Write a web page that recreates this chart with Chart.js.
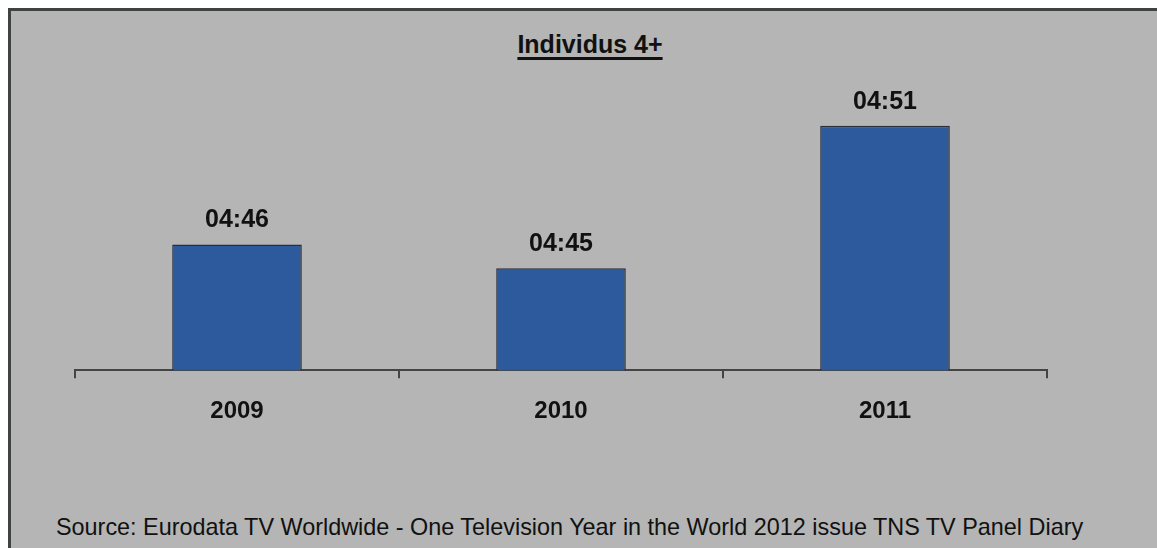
<!DOCTYPE html>
<html>
<head>
<meta charset="utf-8">
<script src="https://cdn.jsdelivr.net/npm/chart.js@4/dist/chart.umd.min.js"></script>
<style>
  html, body { margin: 0; padding: 0; background: #fff; }
  body { width: 1157px; height: 548px; position: relative; overflow: hidden; font-family: "Liberation Sans", Arial, sans-serif; }
  #frame {
    position: absolute; left: 8px; top: 8px; width: 1200px; height: 600px;
    background: #b4b5b4; border-left: 3px solid #3f4242; border-top: 3px solid #3f4242;
  }
  #title {
    position: absolute; left: 0; width: 1180px; top: 30px; text-align: center;
    font-weight: bold; font-size: 25px; line-height: 28px; color: #111;
    text-decoration: underline; text-decoration-thickness: 3px; text-underline-offset: 4px;
  }
  #source {
    position: absolute; left: 56px; top: 513px; font-size: 23.4px; line-height: 28px; color: #111; white-space: nowrap;
  }
  #chart { position: absolute; left: 0; top: 0; }
</style>
</head>
<body>
<div id="frame"></div>
<div id="title">Individus 4+</div>
<div id="source">Source: Eurodata TV Worldwide - One Television Year in the World 2012 issue TNS TV Panel Diary</div>
<canvas id="chart" width="1157" height="548"></canvas>
<script>
// daily viewing time, in minutes (04:46 = 286)
const years = ['2009', '2010', '2011'];
const minutes = [286, 285, 291];

function fmt(v) {
  const h = Math.floor(v / 60);
  const m = Math.round(v % 60);
  return String(h).padStart(2, '0') + ':' + String(m).padStart(2, '0');
}

// draws the value above each bar
const valueLabels = {
  id: 'valueLabels',
  afterDatasetsDraw(chart) {
    const ctx = chart.ctx;
    const meta = chart.getDatasetMeta(0);
    ctx.save();
    ctx.font = 'bold 25px "Liberation Sans", Arial, sans-serif';
    ctx.fillStyle = '#111';
    ctx.textAlign = 'center';
    ctx.textBaseline = 'alphabetic';
    meta.data.forEach((bar, i) => {
      ctx.fillText(fmt(minutes[i]), bar.x, bar.y - 17);
    });
    ctx.restore();
  }
};

new Chart(document.getElementById('chart'), {
  type: 'bar',
  data: {
    labels: years,
    datasets: [{
      data: minutes,
      backgroundColor: '#2d5a9c',
      borderColor: '#2a2f3c',
      borderWidth: 1.5,
      categoryPercentage: 1,
      barPercentage: 0.4
    }]
  },
  options: {
    responsive: false,
    animation: false,
    layout: { padding: { left: 75, right: 110, top: 100, bottom: 103 } },
    plugins: {
      legend: { display: false },
      tooltip: { enabled: false }
    },
    scales: {
      y: { display: false, min: 280.7, max: 292.09 },
      x: {
        grid: { drawOnChartArea: false, drawTicks: true, tickLength: 8, color: '#444', lineWidth: 2 },
        border: { display: true, color: '#444', width: 2 },
        ticks: {
          padding: 19,
          color: '#111',
          font: { family: '"Liberation Sans", Arial, sans-serif', size: 24, weight: 'bold' }
        }
      }
    }
  },
  plugins: [valueLabels]
});
</script>
</body>
</html>
